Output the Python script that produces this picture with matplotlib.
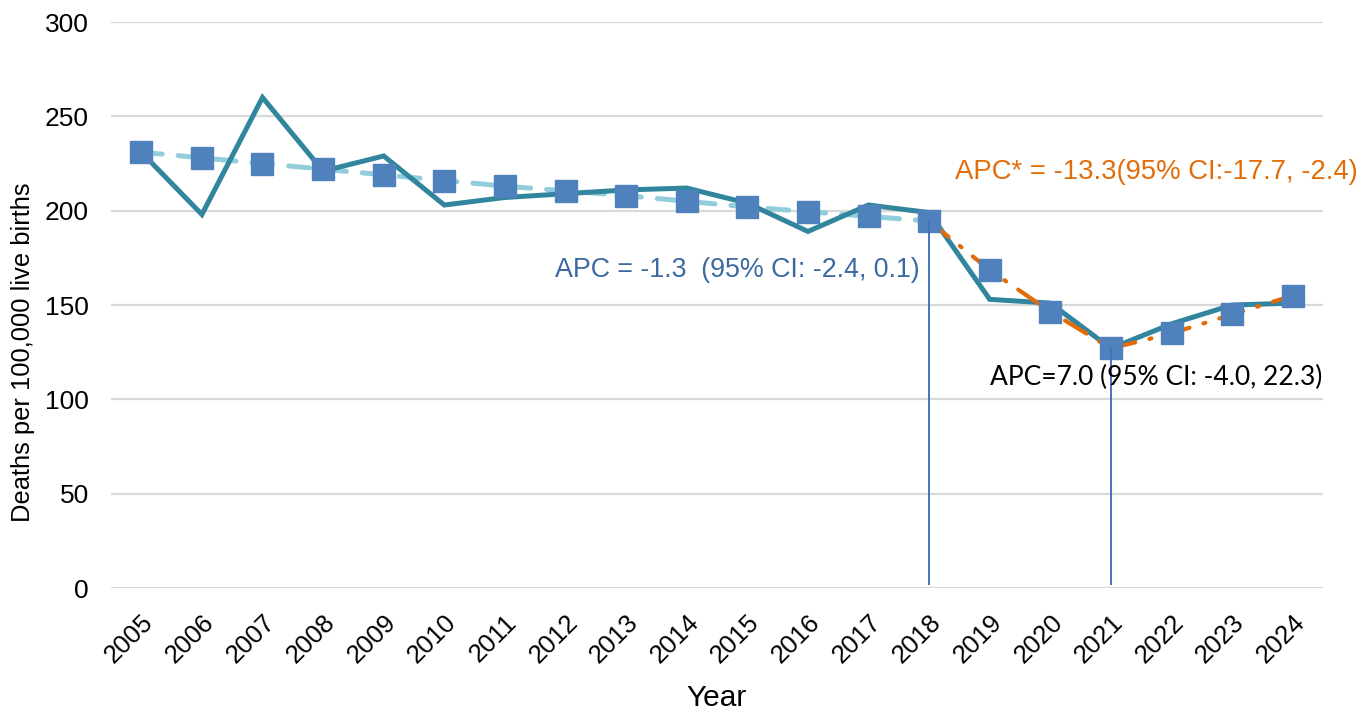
import matplotlib
matplotlib.use("Agg")
import matplotlib.pyplot as plt
import numpy as np

years = [2005, 2006, 2007, 2008, 2009, 2010, 2011, 2012, 2013, 2014,
         2015, 2016, 2017, 2018, 2019, 2020, 2021, 2022, 2023, 2024]
observed = [231, 198, 260, 221, 229, 203, 207, 209, 211, 212,
            204, 189, 203, 199, 153, 151, 127, 140, 150, 151]
modeled = [231, 228, 225, 222, 219, 216, 213, 210.5, 208, 205,
           202, 199.5, 197, 194.5, 168.5, 146.5, 127, 135, 145, 155]
seg1_end = 2018
seg2_end = 2021

plt.rcParams['font.family'] = ['Liberation Sans', 'DejaVu Sans']

fig = plt.figure(figsize=(13.72, 7.15), dpi=100)
ax = fig.add_axes([0.0809, 0.1776, 0.8834, 0.7916])

x = np.arange(len(years))
i1 = years.index(seg1_end)
i2 = years.index(seg2_end)

ax.set_ylim(0, 300)
ax.set_xlim(-0.5, len(years) - 0.5)
ax.set_yticks(range(0, 301, 50))
ax.grid(axis='y', color='#d9d9d9', linewidth=1.6, zorder=0)
for s in ax.spines.values():
    s.set_visible(False)
ax.tick_params(axis='y', length=0, labelsize=19, pad=16)
ax.tick_params(axis='x', length=0, labelsize=18.5, pad=16)
ax.set_xticks(x)
ax.set_xticklabels([str(y) for y in years], rotation=45, ha='right',
                   va='top', rotation_mode='anchor', fontsize=18.5)

# segment 1 trend (light blue dashed)
ax.plot(x[:i1 + 1], modeled[:i1 + 1], color='#92cddc', lw=3.6,
        dashes=(4.2, 3.2), solid_capstyle='round', dash_capstyle='round', zorder=2)
# observed
ax.plot(x, observed, color='#31859c', lw=3.6, zorder=3, solid_joinstyle='miter')
# segments 2 and 3 (orange long dash-dot)
ax.plot(x[i1:i2 + 1], modeled[i1:i2 + 1], color='#e36c09', lw=3.0,
        dashes=(6, 3.5, 0.5, 3.5), dash_capstyle='round', zorder=4)
ax.plot(x[i2:], modeled[i2:], color='#e36c09', lw=3.0,
        dashes=(6, 3.5, 0.5, 3.5), dash_capstyle='round', zorder=4)
# markers
ax.plot(x, modeled, linestyle='none', marker='s', markersize=15.5,
        color='#4f81bd', markeredgecolor='#4f81bd', zorder=5)
# joinpoint verticals
for i in (i1, i2):
    ax.plot([x[i], x[i]], [2, modeled[i]], color='#4472c4', lw=1.4, zorder=6)

ax.text(6.83, 168.5, 'APC = -1.3  (95% CI: -2.4, 0.1)', color='#3b69a0',
        fontsize=19.3, va='center', ha='left', zorder=7)
ax.text(13.43, 220.5, 'APC* = -13.3(95% CI:-17.7, -2.4)', color='#e36c09',
        fontsize=19.8, va='center', ha='left', zorder=7)
ax.text(14.0, 111.5, 'APC=7.0 (95% CI: -4.0, 22.3)', color='black',
        fontsize=19, va='center', ha='left', zorder=7,
        family=['Lato', 'DejaVu Sans'])

ax.set_ylabel('Deaths per 100,000 live births', fontsize=18.4)
ax.yaxis.set_label_coords(-0.0627, 0.417)
ax.set_xlabel('Year', fontsize=21.5, labelpad=12)

fig.savefig('out.png', dpi=100)
